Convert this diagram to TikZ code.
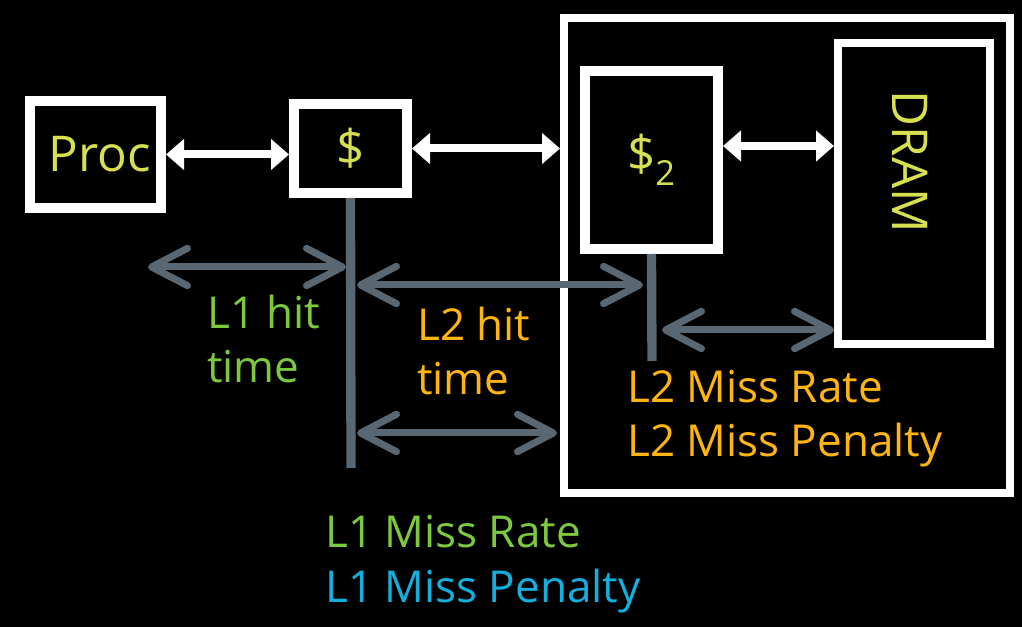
\documentclass[tikz,border=0pt]{standalone}
\usepackage{fontspec}
\setmainfont{Open Sans}
\usetikzlibrary{calc,arrows.meta}

\definecolor{chipyellow}{RGB}{215,224,80}
\definecolor{lgreen}{RGB}{124,201,64}
\definecolor{lorange}{RGB}{255,181,15}
\definecolor{lblue}{RGB}{18,176,222}
\definecolor{lgray}{RGB}{89,103,114}

\begin{document}
\begin{tikzpicture}[x=0.75pt,y=-0.75pt]
    % boxes of the hierarchy
    \tikzstyle{blk}=[draw=white, line width=7.5pt, inner sep=0, text=chipyellow, font=\fontsize{37}{40}\selectfont]
    % white links between levels
    \tikzstyle{link}=[draw=white, line width=6pt, {Triangle[length=13.5pt,width=22.5pt]}-{Triangle[length=13.5pt,width=22.5pt]}]
    % gray time spans
    \tikzstyle{span}=[draw=lgray, line width=5.25pt, {Straight Barb[length=27pt,width=28pt,round]}-{Straight Barb[length=27pt,width=28pt,round]}]
    \tikzstyle{tick}=[draw=lgray, line width=7pt]
    \tikzstyle{lbl}=[inner sep=0, anchor=base west, font=\fontsize{33}{41}\selectfont, align=left]
    \fill[black] (0,0) rectangle (1022,627);
    \node[blk, minimum width=98.25pt, minimum height=80.25pt] (proc) at (95.5,154.5) {\hspace*{6pt}Proc};
    \node[blk, minimum width=84.75pt, minimum height=66.75pt] (cache) at (350.5,148.5) {\$};
    \node[blk, line width=6pt, minimum width=334.5pt, minimum height=356.25pt] (mem) at (787,255.5) {};
    \node[blk, minimum width=99.75pt, minimum height=133.5pt] (ltwo) at (651.5,160) {\$\textsubscript{2}};
    \node[blk, line width=6pt, minimum width=114pt, minimum height=225.75pt] (dram) at (914,193.5) {};
    \node[inner sep=0, rotate=-90, text=chipyellow, font=\fontsize{37}{40}\selectfont] (dramlbl) at (910,162) {DRAM};
    \draw[link] (proc.east) -- (proc.east -| cache.west);
    \draw[link] (cache.east) -- (cache.east -| mem.west);
    \draw[link] ([yshift=10.5pt]ltwo.east) -- ([yshift=10.5pt]ltwo.east -| dram.west);
    % ticks under the caches
    \coordinate (tickone) at (351,468);
    \coordinate (ticktwo) at (652,361);
    \draw[tick] (cache.south) -- (tickone);
    \draw[tick] (ltwo.south) -- (ticktwo);
    \coordinate (hitl) at (148,267);
    \coordinate (hitr) at (346,267);
    \coordinate (twol) at (357,285);
    \coordinate (twor) at (643,285);
    \coordinate (missl) at (357,433);
    \coordinate (missr) at (557,433);
    \coordinate (penl) at (662,330);
    \draw[span] (hitl) -- (hitr);
    \draw[span] (twol) -- (twor);
    \draw[span] (missl) -- (missr);
    \draw[span] (penl) -- (penl -| dram.west);
    % labels (base = last line)
    \node[lbl, text=lgreen] (hitone) at (207,383) {L1 hit\\time};
    \node[lbl, text=lorange] (hittwo) at (417,395) {L2 hit\\time};
    \node[lbl, text=lorange] (misstwo) at (627,457) {L2 Miss Rate\\L2 Miss Penalty};
    \node[lbl, text=lgreen] (missone) at (325,547) {L1 Miss Rate};
    \node[lbl, text=lblue] (penone) at (325,602) {L1 Miss Penalty};
\end{tikzpicture}
\end{document}
